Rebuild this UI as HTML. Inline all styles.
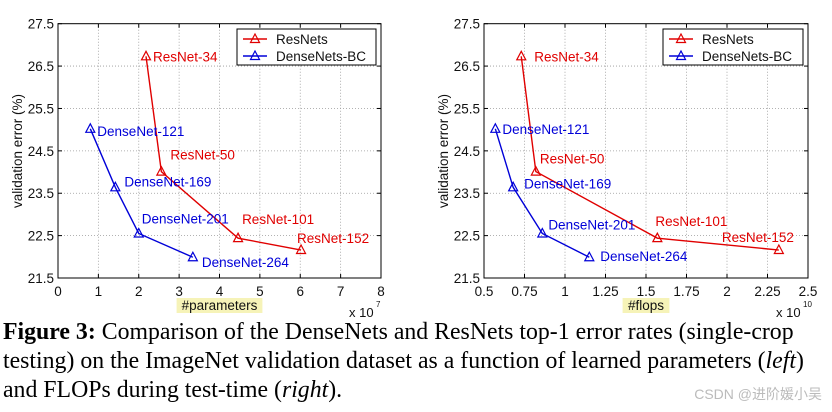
<!DOCTYPE html>
<html><head><meta charset="utf-8"><style>
body{margin:0;background:#fff;width:832px;height:412px;overflow:hidden;position:relative}
svg{position:absolute;left:0;top:0}
.cap{position:absolute;left:3px;top:318px;font-family:"Liberation Serif",serif;font-size:23.8px;line-height:29px;color:#000;white-space:nowrap}
.wm{position:absolute;right:10px;top:384px;font-family:"Liberation Sans","Noto Sans CJK SC",sans-serif;font-size:14px;color:#bbb}
</style></head><body>
<svg id="chart" width="832" height="412"></svg>
<div class="cap"><b>Figure 3:</b> Comparison of the DenseNets and ResNets top-1 error rates (single-crop<br>testing) on the ImageNet validation dataset as a function of learned parameters (<i>left</i>)<br>and FLOPs during test-time (<i>right</i>).</div>
<div class="wm">CSDN @进阶媛小吴</div>
<script>
const resNames=["ResNet-34","ResNet-50","ResNet-101","ResNet-152"];
const denseNames=["DenseNet-121","DenseNet-169","DenseNet-201","DenseNet-264"];
const resErr=[26.73,24.01,22.44,22.16];
const denseErr=[25.02,23.64,22.55,21.99];
const resParams=[2.18,2.56,4.46,6.02];
const denseParams=[0.8,1.42,2.0,3.34];
const resFlops=[0.73,0.82,1.57,2.32];
const denseFlops=[0.57,0.68,0.86,1.15];
const yTicks=[21.5,22.5,23.5,24.5,25.5,26.5,27.5];
const xTicksL=[0,1,2,3,4,5,6,7,8];
const xTicksR=[0.5,0.75,1,1.25,1.5,1.75,2,2.25,2.5];
const xTickLabelsR=["0.5","0.75","1","1.25","1.5","1.75","2","2.25","2.5"];

const NS="http://www.w3.org/2000/svg";
const svg=document.getElementById('chart');
function mk(tag,attrs,parent,text){const e=document.createElementNS(NS,tag);for(const k in attrs)e.setAttribute(k,attrs[k]);if(text!==undefined)e.textContent=text;(parent||svg).appendChild(e);return e;}
const F='"Liberation Sans",sans-serif';

function panel(o){
  const g=mk('g',{});
  
  
  const X=v=>o.x0+(v-o.xmin)/(o.xmax-o.xmin)*(o.x1-o.x0);
  const Y=v=>278-(v-21.5)/6*(278-23.7);
  o.xt.forEach((t,i)=>{const x=X(t);
    if(i>0&&i<o.xt.length-1){const l=mk('line',{x1:x,x2:x,y1:23.7,y2:278,stroke:'#999','stroke-dasharray':'1,2','stroke-width':0.8},g);}
    const tl=mk('text',{x:x,y:296,'text-anchor':'middle','font-family':F,'font-size':13.5,fill:'#111'},g,o.xl[i]);
    
    mk('line',{x1:x,x2:x,y1:278,y2:274,stroke:'#000'},g);mk('line',{x1:x,x2:x,y1:23.7,y2:27.7,stroke:'#000'},g);
  });
  yTicks.forEach((t,i)=>{const y=Y(t);
    if(i>0&&i<yTicks.length-1){const l=mk('line',{x1:o.x0,x2:o.x1,y1:y,y2:y,stroke:'#999','stroke-dasharray':'1,2','stroke-width':0.8},g);}
    const tl=mk('text',{x:o.x0-4,y:y+5,'text-anchor':'end','font-family':F,'font-size':13.5,fill:'#111'},g,t.toFixed(1));
    
    mk('line',{x1:o.x0,x2:o.x0+4,y1:y,y2:y,stroke:'#000'},g);mk('line',{x1:o.x1,x2:o.x1-4,y1:y,y2:y,stroke:'#000'},g);
  });
  const fr=mk('rect',{x:o.x0,y:23.7,width:o.x1-o.x0,height:278-23.7,fill:'none',stroke:'#000','stroke-width':1},g);
  
  const yl=mk('text',{transform:`translate(${o.x0-36},151) rotate(-90)`,'text-anchor':'middle','font-family':F,'font-size':13.5,fill:'#111'},g,'validation error (%)');
  
  const cx=(o.x0+o.x1)/2;
  const hw=o.xtitle.length*3.9;
  mk('rect',{x:cx-hw,y:298,width:hw*2,height:15,fill:'#f6f3b8'},g);
  const xl=mk('text',{x:cx,y:310,'text-anchor':'middle','font-family':F,'font-size':13.5,fill:'#111'},g,o.xtitle);
  
  const ex=mk('text',{x:o.x1-32,y:317,'font-family':F,'font-size':13,fill:'#111'},g,'x 10');
  
  mk('text',{x:o.x1-5,y:307,'font-family':F,'font-size':8,fill:'#111'},g,o.exp);
  function tri(x,y,c,parent){return mk('polygon',{points:`${x},${y-5} ${x-4.5},${y+3.5} ${x+4.5},${y+3.5}`,fill:'none',stroke:c,'stroke-width':1.2},parent);}
  function series(xs,ys,names,offs,c,sname){
    const pts=xs.map((v,i)=>X(v)+','+Y(ys[i])).join(' ');
    const pl=mk('polyline',{points:pts,fill:'none',stroke:c,'stroke-width':1.4},g);
    
    xs.forEach((v,i)=>{const t=tri(X(v),Y(ys[i]),c,g);
      
      const lb=mk('text',{x:X(v)+offs[i][0],y:Y(ys[i])+offs[i][1]+5,'font-family':F,'font-size':13.5,fill:c},g,names[i]);
      });
  }
  series(o.rx,resErr,resNames,o.ro,'#e00000','resnets');
  series(o.dx,denseErr,denseNames,o.do,'#0000d8','densenets');
  const lg=mk('g',{},g);
  mk('rect',{x:o.lx,y:29,width:o.lw,height:36,fill:'#fff',stroke:'#000'},lg);
  [['ResNets','#e00000',39],['DenseNets-BC','#0000d8',56]].forEach(([n,c,y])=>{
    const e=mk('g',{},lg);
    mk('line',{x1:o.lx+6,x2:o.lx+30,y1:y,y2:y,stroke:c,'stroke-width':1.4},e);tri(o.lx+18,y,c,e);
    mk('text',{x:o.lx+39,y:y+5,'font-family':F,'font-size':13.5,fill:'#111'},e,n);});
}
panel({name:'params-chart',x0:58,x1:381,xmin:0,xmax:8,xt:xTicksL,xl:xTicksL.map(String),xtitle:'#parameters',exp:'7',
  rx:resParams,dx:denseParams,lx:237,lw:139,
  ro:[[7,0],[9,-17],[4,-19],[-4,-12]],do:[[7,2],[9,-6],[3,-15],[9,5]]});
panel({name:'flops-chart',x0:484,x1:808,xmin:0.5,xmax:2.5,xt:xTicksR,xl:xTickLabelsR,xtitle:'#flops',exp:'10',
  rx:resFlops,dx:denseFlops,lx:663,lw:140,
  ro:[[13,0],[4,-13],[-2,-17],[-57,-13]],do:[[7,0],[11,-4],[6,-9],[11,-1]]});
</script>
</body></html>
